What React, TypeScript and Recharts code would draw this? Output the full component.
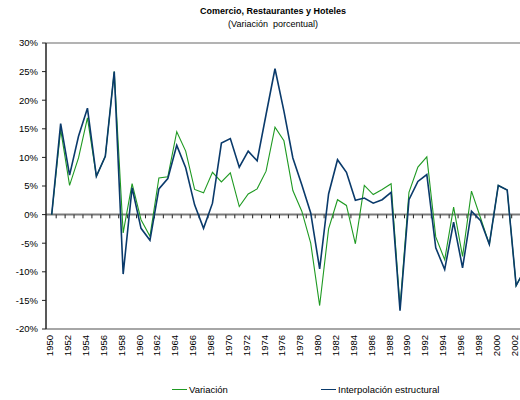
import React from "react";
import { LineChart, Line, XAxis, YAxis, ReferenceLine, Legend } from "recharts";

const years = [
  1950, 1951, 1952, 1953, 1954, 1955, 1956, 1957, 1958, 1959,
  1960, 1961, 1962, 1963, 1964, 1965, 1966, 1967, 1968, 1969,
  1970, 1971, 1972, 1973, 1974, 1975, 1976, 1977, 1978, 1979,
  1980, 1981, 1982, 1983, 1984, 1985, 1986, 1987, 1988, 1989,
  1990, 1991, 1992, 1993, 1994, 1995, 1996, 1997, 1998, 1999,
  2000, 2001, 2002, 2003,
];

const variacion = [
  0, 14.9, 5.1, 9.9, 16.9, 6.7, 10.2, 25.0, -3.2, 5.4,
  -0.9, -3.8, 6.4, 6.6, 14.5, 11.1, 4.4, 3.8, 7.4, 5.7,
  7.3, 1.4, 3.6, 4.5, 7.6, 15.3, 12.9, 4.2, 0.6, -5.0,
  -15.9, -2.5, 2.6, 1.6, -5.1, 5.1, 3.5, 4.4, 5.4, -16.2,
  3.9, 8.3, 10.1, -3.9, -7.9, 1.3, -7.3, 4.1, -0.5, -5.2,
  5.1, 4.3, -12.4, -9.5,
];

const interpolacion = [
  0, 15.9, 6.9, 13.7, 18.6, 6.7, 10.2, 25.0, -10.4, 4.7,
  -2.4, -4.5, 4.5, 6.3, 12.1, 8.2, 1.7, -2.4, 2.0, 12.5,
  13.3, 8.3, 11.1, 9.4, 17.5, 25.5, 18.1, 9.9, 5.2, 0.3,
  -9.5, 3.6, 9.6, 7.4, 2.5, 2.9, 2.0, 2.6, 3.9, -16.8,
  2.6, 5.8, 7.0, -5.8, -9.6, -1.3, -9.3, 0.6, -1.0, -5.2,
  5.1, 4.3, -12.4, -9.5,
];

const xTickLabels = [
  1950, 1952, 1954, 1956, 1958, 1960, 1962, 1964, 1966, 1968,
  1970, 1972, 1974, 1976, 1978, 1980, 1982, 1984, 1986, 1988,
  1990, 1992, 1994, 1996, 1998, 2000, 2002,
];

const yTicks = [-20, -15, -10, -5, 0, 5, 10, 15, 20, 25, 30];

const title = "Comercio, Restaurantes y Hoteles";
const subtitle = "(Variación  porcentual)";
const seriesNames = ["Variación", "Interpolación estructural"];

const GREEN = "#1f9a22";
const BLUE = "#0a3a6b";
const FONT = "'Liberation Sans', Arial, Helvetica, sans-serif";

const data = years.map((y, i) => ({
  year: y,
  variacion: variacion[i],
  interpolacion: interpolacion[i],
}));

// boundaries between categories, for small tick marks on the zero line
const boundaries = years.slice(0, -1).map((y) => y + 0.5);

const XTick = (props: any) => {
  const { x, payload } = props;
  const yy = 335;
  const xx = x - 2;
  return (
    <text
      x={xx}
      y={yy}
      transform={`rotate(-90 ${xx} ${yy})`}
      textAnchor="end"
      dominantBaseline="central"
      fontSize={9.5}
      fontFamily={FONT}
      fill="#000"
    >
      {payload.value}
    </text>
  );
};

const LegendContent = () => (
  <div
    style={{
      position: "relative",
      height: 14,
      fontFamily: FONT,
      fontSize: 9.5,
      color: "#000",
    }}
  >
    <div style={{ position: "absolute", left: 172, top: 0, display: "flex", alignItems: "center" }}>
      <span style={{ display: "inline-block", width: 15, height: 0, borderTop: `1.5px solid ${GREEN}`, marginRight: 2 }} />
      <span>{seriesNames[0]}</span>
    </div>
    <div style={{ position: "absolute", left: 321, top: 0, display: "flex", alignItems: "center" }}>
      <span style={{ display: "inline-block", width: 15, height: 0, borderTop: `1.5px solid ${BLUE}`, marginRight: 2 }} />
      <span>{seriesNames[1]}</span>
    </div>
  </div>
);

export default function App() {
  return (
    <div
      style={{
        position: "fixed",
        left: 0,
        top: 0,
        width: 520,
        height: 400,
        overflow: "hidden",
        background: "#fff",
        fontFamily: FONT,
      }}
    >
      <div
        style={{
          position: "absolute",
          top: 6,
          left: 0,
          width: 546,
          textAlign: "center",
          fontSize: 9,
          fontWeight: "bold",
          color: "#000",
        }}
      >
        {title}
      </div>
      <div
        style={{
          position: "absolute",
          top: 19,
          left: 0,
          width: 546,
          textAlign: "center",
          fontSize: 9,
          color: "#000",
          whiteSpace: "pre",
        }}
      >
        {subtitle}
      </div>
      <LineChart
        width={540}
        height={400}
        data={data}
        margin={{ top: 43, right: 6, bottom: 41, left: 0 }}
      >
        <XAxis
          dataKey="year"
          type="number"
          domain={[1949.36, 2004]}
          ticks={xTickLabels}
          interval={0}
          tick={<XTick />}
          tickLine={false}
          axisLine={{ stroke: "#a6a6a6", strokeWidth: 2 }}
          height={30}
          allowDataOverflow
        />
        <YAxis
          type="number"
          domain={[-20, 30]}
          ticks={yTicks}
          interval={0}
          width={46}
          tickFormatter={(v: number) => `${v}%`}
          tick={{ fontSize: 9.5, fontFamily: FONT, fill: "#000" }}
          tickSize={4}
          tickMargin={4}
          tickLine={{ stroke: "#222" }}
          axisLine={{ stroke: "#222", strokeWidth: 1.5 }}
        />
        <ReferenceLine y={30} stroke="#b3b3b3" strokeWidth={2} ifOverflow="extendDomain" />
        <ReferenceLine y={0} stroke="#7a7a7a" strokeWidth={2} />
        {boundaries.map((b) => (
          <ReferenceLine
            key={b}
            segment={[
              { x: b, y: 0 },
              { x: b, y: -0.65 },
            ]}
            stroke="#222"
            strokeWidth={1}
          />
        ))}
        <Legend
          verticalAlign="middle"
          align="center"
          layout="horizontal"
          wrapperStyle={{ position: "absolute", top: 384, left: 0, width: 520 }}
          content={<LegendContent />}
        />
        <Line
          type="linear"
          dataKey="variacion"
          name={seriesNames[0]}
          stroke={GREEN}
          strokeWidth={1.1}
          dot={false}
          activeDot={false}
          isAnimationActive={false}
        />
        <Line
          type="linear"
          dataKey="interpolacion"
          name={seriesNames[1]}
          stroke={BLUE}
          strokeWidth={1.6}
          dot={false}
          activeDot={false}
          isAnimationActive={false}
        />
      </LineChart>
    </div>
  );
}
